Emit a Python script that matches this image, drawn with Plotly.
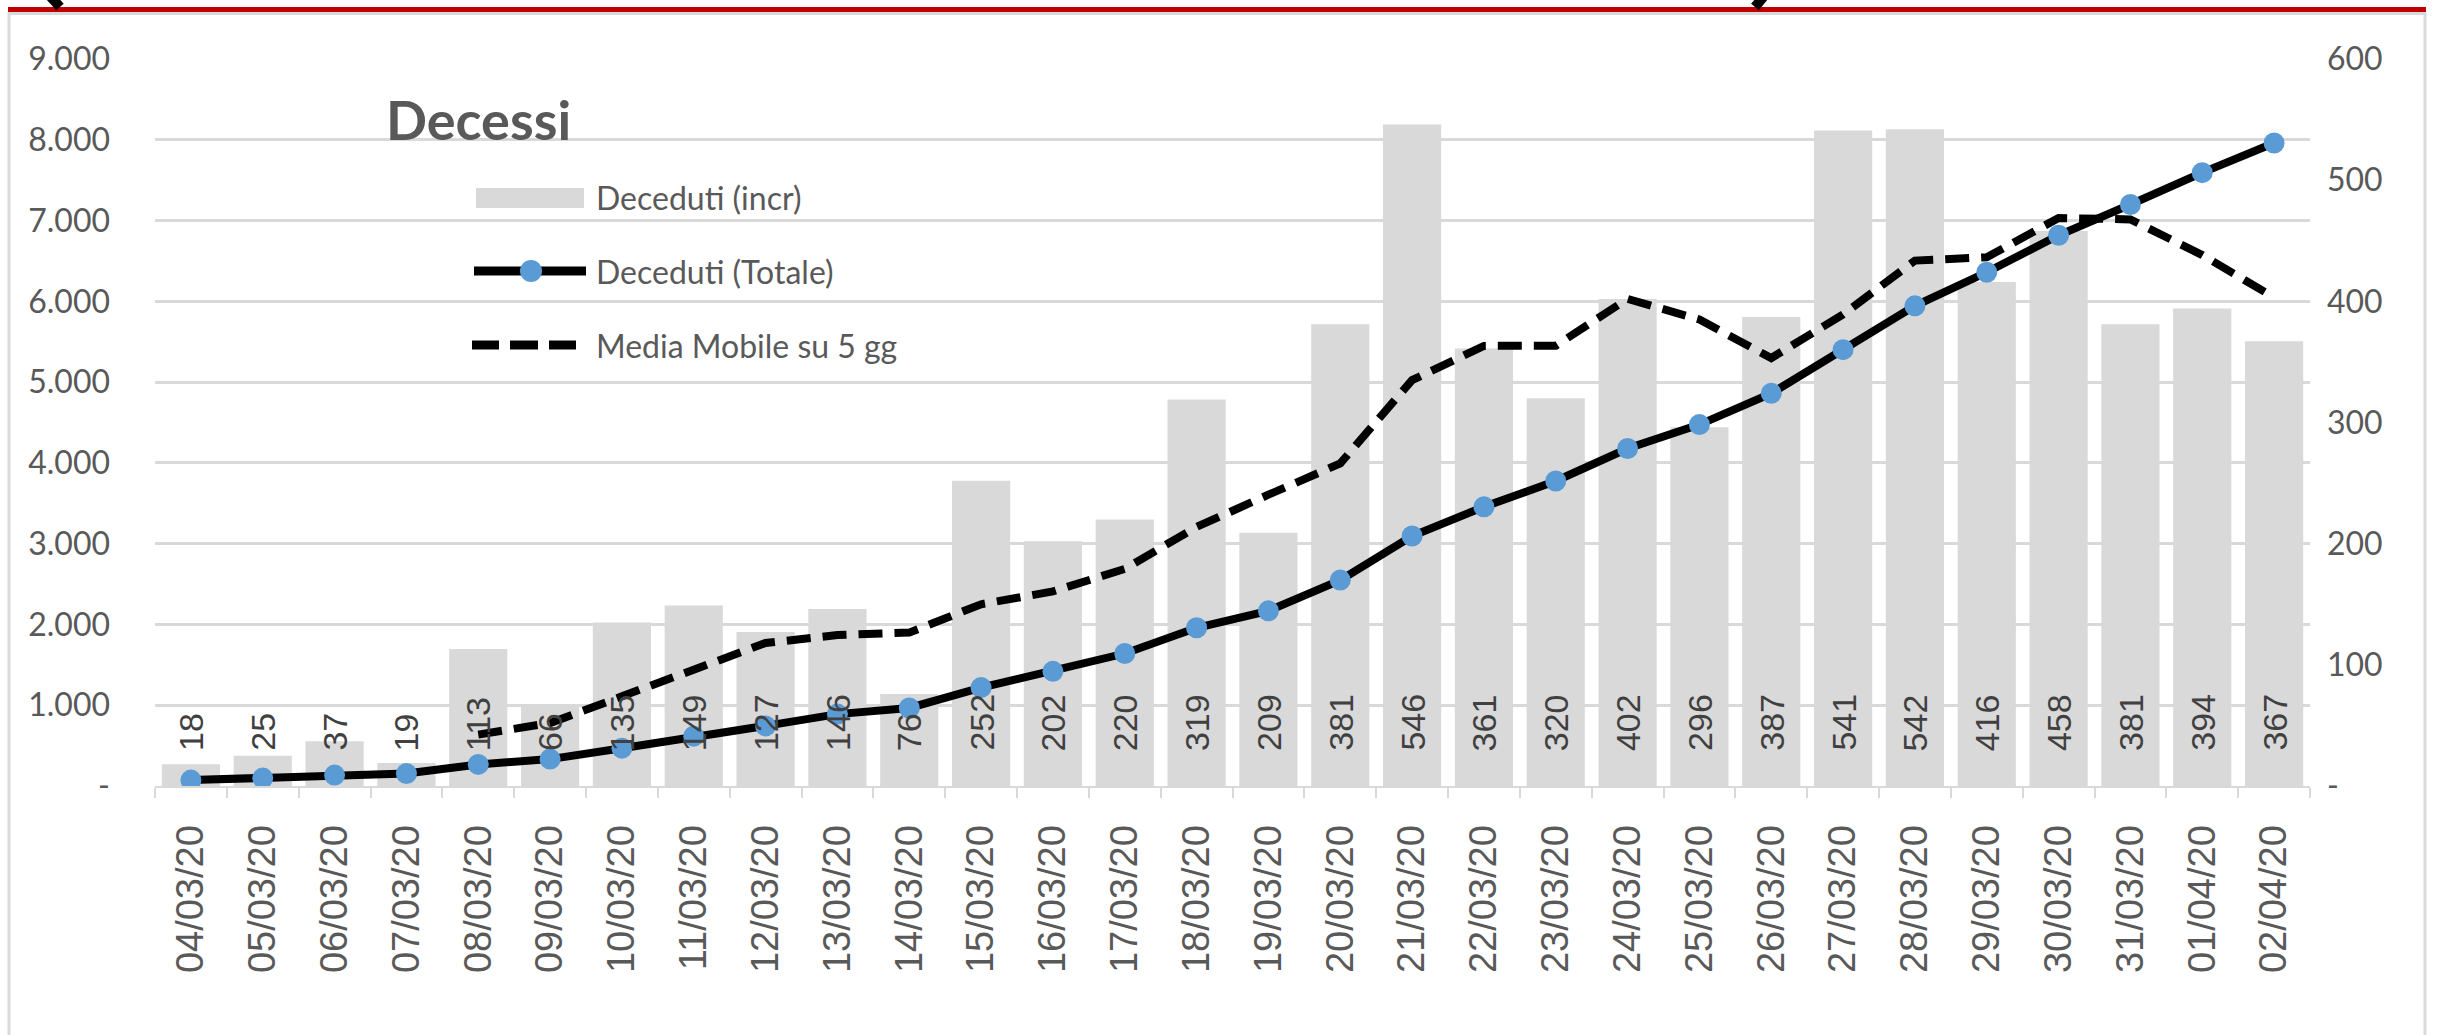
import plotly.graph_objects as go

dates = ["04/03/20", "05/03/20", "06/03/20", "07/03/20", "08/03/20", "09/03/20",
         "10/03/20", "11/03/20", "12/03/20", "13/03/20", "14/03/20", "15/03/20",
         "16/03/20", "17/03/20", "18/03/20", "19/03/20", "20/03/20", "21/03/20",
         "22/03/20", "23/03/20", "24/03/20", "25/03/20", "26/03/20", "27/03/20",
         "28/03/20", "29/03/20", "30/03/20", "31/03/20", "01/04/20", "02/04/20"]

deceduti_incr = [18, 25, 37, 19, 113, 66, 135, 149, 127, 146, 76, 252, 202, 220, 319,
                 209, 381, 546, 361, 320, 402, 296, 387, 541, 542, 416, 458, 381, 394, 367]

deceduti_totale = [73, 98, 135, 154, 267, 333, 468, 617, 744, 890, 966, 1218, 1420, 1640,
                   1959, 2168, 2549, 3095, 3456, 3776, 4178, 4474, 4861, 5402, 5944, 6360,
                   6818, 7199, 7593, 7960]

media_mobile = [None, None, None, None, 42.4, 52.0, 74.0, 96.4, 118.0, 124.6, 126.6, 150.0,
                160.6, 179.2, 213.8, 240.4, 266.2, 335.0, 363.2, 363.4, 402.0, 385.0, 353.2,
                389.2, 433.6, 436.4, 468.8, 467.6, 438.2, 403.2]

series_names = ["Deceduti (incr)", "Deceduti (Totale)", "Media Mobile su 5 gg"]

left_ticks = [0, 1000, 2000, 3000, 4000, 5000, 6000, 7000, 8000, 9000]
right_ticks = [0, 100, 200, 300, 400, 500, 600]

W, H = 2438, 1035
ML, MT = 155, 59
PLOT_R, PLOT_B = 2310, 786
MR, MB = W - PLOT_R, H - PLOT_B
PW, PH = W - ML - MR, H - MT - MB


def xp(px):
    return (px - ML) / PW


def yp(py):
    return (PLOT_B - py) / PH


def fmt(v):
    return "-" if v == 0 else f"{v:,}".replace(",", ".")


GRAY_TXT = "#595959"
SANS = "Lato, Open Sans, sans-serif"
TICK_FONT = dict(family=SANS, size=32, color=GRAY_TXT)
LBL_FONT = "Liberation Sans, Arial, sans-serif"
BAR_COLOR = "#D9D9D9"
DOT_COLOR = "#5B9BD5"

fig = go.Figure()

fig.add_trace(go.Bar(
    x=dates, y=deceduti_incr, name=series_names[0],
    marker=dict(color=BAR_COLOR, line=dict(width=0)),
    yaxis="y",
))

fig.add_trace(go.Scatter(
    x=dates, y=media_mobile, name=series_names[2], mode="lines",
    line=dict(color="black", width=8, dash="24px,12px"),
    yaxis="y",
))

fig.add_trace(go.Scatter(
    x=dates, y=deceduti_totale, name=series_names[1], mode="lines+markers",
    line=dict(color="black", width=8),
    marker=dict(color=DOT_COLOR, size=21, line=dict(width=0)),
    yaxis="y2",
))

annotations = []
for d, v in zip(dates, deceduti_incr):
    annotations.append(dict(
        x=d, y=0, xref="x", yref="y", text=str(v), textangle=-90,
        xanchor="center", yanchor="bottom", yshift=33, showarrow=False,
        font=dict(family=LBL_FONT, size=34, color="#404040"),
    ))

annotations.append(dict(
    x=xp(384), y=yp(120), xref="paper", yref="paper", text="<b>Decessi</b>",
    xanchor="left", yanchor="middle", showarrow=False,
    font=dict(family=SANS, size=54, color=GRAY_TXT),
))

# legend (drawn manually to reproduce the long symbols)
leg_y = [198, 271, 345]
for name, ly in zip(series_names, leg_y):
    annotations.append(dict(
        x=xp(594), y=yp(ly), xref="paper", yref="paper", text=name,
        xanchor="left", yanchor="middle", showarrow=False,
        font=dict(family=SANS, size=32, color=GRAY_TXT),
    ))

shapes = [
    # chart border
    dict(type="rect", xref="paper", yref="paper", x0=xp(9), x1=xp(2425),
         y0=yp(1060), y1=yp(13.5), line=dict(color="#D9D9D9", width=3),
         fillcolor="rgba(0,0,0,0)", layer="below"),
    # red rule at top
    dict(type="line", xref="paper", yref="paper", x0=xp(8), x1=xp(2426),
         y0=yp(9.5), y1=yp(9.5), line=dict(color="#C00000", width=5)),
    # clipped title glyph fragments
    dict(type="line", xref="paper", yref="paper", x0=xp(50), x1=xp(60),
         y0=yp(-4), y1=yp(7), line=dict(color="black", width=10)),
    dict(type="line", xref="paper", yref="paper", x0=xp(1764), x1=xp(1755),
         y0=yp(-4), y1=yp(7), line=dict(color="black", width=10)),
    # legend symbols
    dict(type="rect", xref="paper", yref="paper", x0=xp(476), x1=xp(584),
         y0=yp(208), y1=yp(188), line=dict(width=0), fillcolor=BAR_COLOR),
    dict(type="line", xref="paper", yref="paper", x0=xp(474), x1=xp(586),
         y0=yp(271), y1=yp(271), line=dict(color="black", width=9)),
    dict(type="circle", xref="paper", yref="paper", x0=xp(520), x1=xp(542),
         y0=yp(282), y1=yp(260), line=dict(width=0), fillcolor=DOT_COLOR),
]
for a, b in [(472, 499), (510, 538), (549, 576)]:
    shapes.append(dict(type="line", xref="paper", yref="paper", x0=xp(a), x1=xp(b),
                       y0=yp(345), y1=yp(345), line=dict(color="black", width=9)))

fig.update_layout(
    width=W, height=H,
    margin=dict(l=ML, r=MR, t=MT, b=MB, pad=0, autoexpand=False),
    paper_bgcolor="white", plot_bgcolor="white",
    bargap=0.19,
    showlegend=False,
    hovermode=False,
    xaxis=dict(
        type="category", categoryorder="array", categoryarray=dates,
        range=[-0.5, len(dates) - 0.5], autorange=False,
        showgrid=False, showline=True, linecolor="#D9D9D9", linewidth=2,
        ticks="outside", tickson="boundaries", ticklen=10, tickwidth=2,
        tickcolor="#D9D9D9", tickangle=-90, ticklabelstandoff=22,
        tickfont=dict(family=LBL_FONT, size=38, color=GRAY_TXT), automargin=False,
    ),
    yaxis=dict(
        side="right", range=[0, 600], tickvals=right_ticks,
        ticktext=[fmt(v) for v in right_ticks], showgrid=False, zeroline=False,
        showline=False, ticks="", ticklabelstandoff=16, tickfont=TICK_FONT,
        automargin=False,
    ),
    yaxis2=dict(
        overlaying="y", side="left", range=[0, 9000], tickvals=left_ticks,
        ticktext=[fmt(v) for v in left_ticks], showgrid=True, gridcolor="#D9D9D9",
        gridwidth=3, zeroline=False, showline=False, ticks="",
        ticklabelstandoff=44, tickfont=TICK_FONT, automargin=False,
    ),
    annotations=annotations,
    shapes=shapes,
)

fig.write_html(
    "out.html",
    config={"displayModeBar": False, "staticPlot": True},
    post_script="document.body.style.margin='0';document.body.style.overflow='hidden';",
)
